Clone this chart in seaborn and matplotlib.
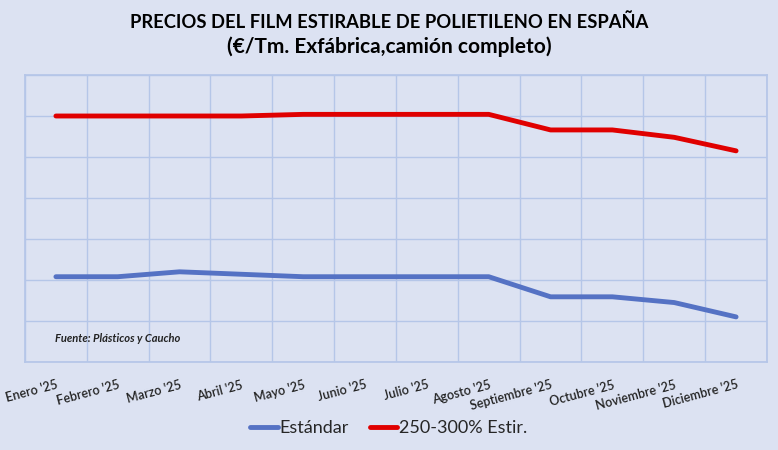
import pandas as pd
import matplotlib.pyplot as plt
import seaborn as sns

# meses y precios (escala estimada, sin etiquetas en el eje)
meses = ["Enero '25", "Febrero '25", "Marzo '25", "Abril '25", "Mayo '25", "Junio '25",
         "Julio '25", "Agosto '25", "Septiembre '25", "Octubre '25", "Noviembre '25",
         "Diciembre '25"]
estandar = [1208, 1208, 1220, 1214, 1208, 1208, 1208, 1208, 1159, 1159, 1145, 1110]
estir = [1600, 1600, 1600, 1600, 1604, 1604, 1604, 1604, 1566, 1566, 1548, 1515]
series = ["Estándar", "250-300% Estir."]
colores = ["#5572C4", "#E00000"]

df = pd.DataFrame({
    'mes': meses * 2,
    'precio': estandar + estir,
    'serie': [series[0]] * len(meses) + [series[1]] * len(meses),
})

bg = "#DCE2F2"
sns.set_theme(style="white")
plt.rcParams['font.family'] = ['Lato', 'DejaVu Sans']

fig = plt.figure(figsize=(7.78, 4.5), dpi=100, facecolor=bg)
ax = fig.add_axes([25 / 778, 1 - 362 / 450, 742 / 778, 287 / 450])
ax.set_facecolor(bg)

sns.lineplot(data=df, x='mes', y='precio', hue='serie', palette=colores,
             linewidth=3.5, sort=False, ax=ax)

ax.set_xlim(-0.5, len(meses) - 0.5)
ax.set_ylim(1000, 1700)
ax.set_yticks(range(1000, 1701, 100))
ax.set_yticklabels([])
ax.set_xticks(range(len(meses)))
ax.set_xticks([i + 0.5 for i in range(-1, len(meses))], minor=True)
ax.set_xticklabels(meses, rotation=15, ha='right', rotation_mode='anchor',
                   fontsize=9, fontweight='semibold', color='#222222')
ax.tick_params(axis='x', which='major', length=0, pad=12)
ax.tick_params(axis='y', length=0)
ax.grid(True, which='minor', axis='x', color='#B5C6E8', linewidth=1)
ax.grid(True, which='major', axis='y', color='#B5C6E8', linewidth=1)
for s in ax.spines.values():
    s.set_color('#B5C6E8')
ax.set_xlabel('')
ax.set_ylabel('')

ax.text(0.04, 0.07, 'Fuente: Plásticos y Caucho', transform=ax.transAxes,
        fontsize=8, fontweight='bold', fontstyle='italic', color='#222222')

fig.text(0.5, 1 - 22 / 450, 'PRECIOS DEL FILM ESTIRABLE DE POLIETILENO EN ESPAÑA',
         ha='center', va='center', fontsize=13.2, fontweight='bold', color='black')
fig.text(0.5, 1 - 47 / 450, '(€/Tm. Exfábrica,camión completo)',
         ha='center', va='center', fontsize=15, fontweight='bold', color='black')

ax.legend(loc='center', bbox_to_anchor=(0.5, 1 - 428 / 450), bbox_transform=fig.transFigure,
          ncol=2, frameon=False, fontsize=13, handlelength=1.5, columnspacing=1.2,
          handletextpad=0.1)

plt.savefig('out.png', dpi=100, facecolor=bg)
